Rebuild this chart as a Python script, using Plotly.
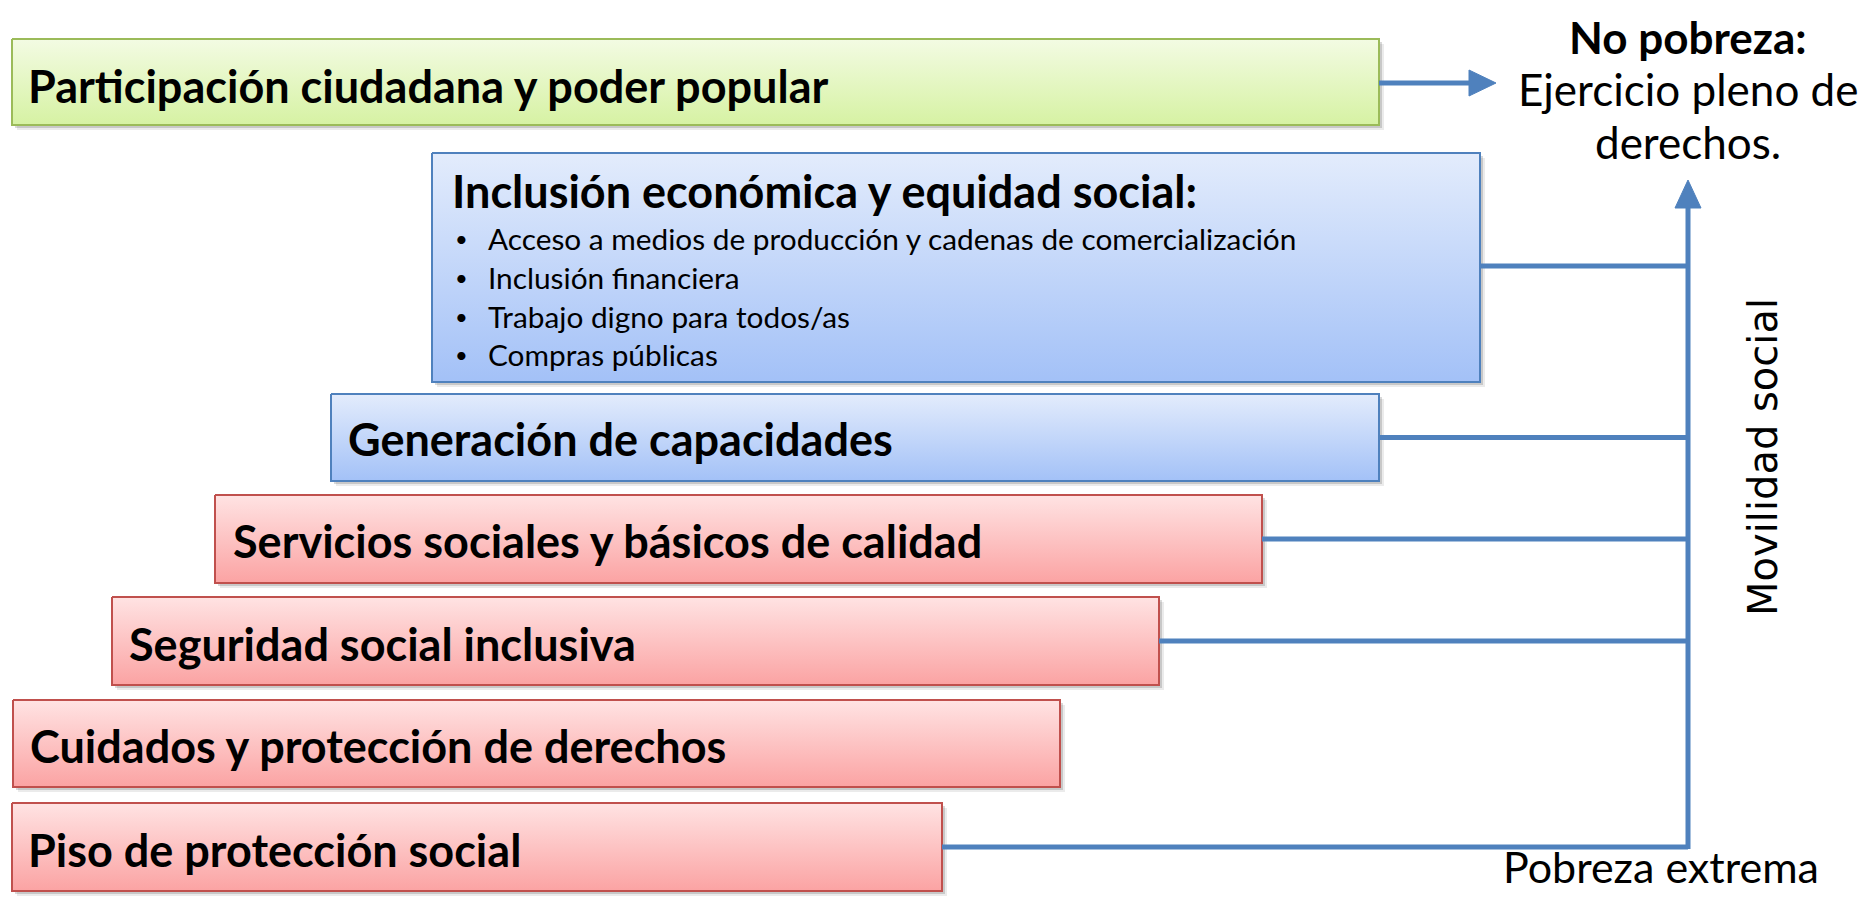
import plotly.graph_objects as go

# --- content -------------------------------------------------------------
labels = [
    "Participación ciudadana y poder popular",
    "Inclusión económica y equidad social:",
    "Generación de capacidades",
    "Servicios sociales y básicos de calidad",
    "Seguridad social inclusiva",
    "Cuidados y protección de derechos",
    "Piso de protección social",
]
bullets = [
    "Acceso a medios de producción y cadenas de comercialización",
    "Inclusión financiera",
    "Trabajo digno para todos/as",
    "Compras públicas",
]
groups = ["green", "blue", "blue", "red", "red", "red", "red"]
linked = [False, True, True, True, True, False, True]

top_title = "No pobreza:"
top_text = ["Ejercicio pleno de", "derechos."]
side_text = "Movilidad social"
bottom_text = "Pobreza extrema"

# --- layout (pixel space, y grows downwards) -----------------------------
W, H = 1872, 905
PAD = 8  # page body margin, so axis units line up with screen pixels
box_x0 = [12, 432, 331, 215, 112, 13, 12]
box_x1 = [1379, 1480, 1379, 1262, 1159, 1060, 942]
box_y0 = [39, 153, 394, 495, 597, 700, 803]
box_y1 = [125, 382, 481, 583, 685, 787, 891]

palette = {
    "green": ("#F3FBE3", "#D6F2A3", "#9BBB59"),
    "blue": ("#E3ECFC", "#A3C1F7", "#4F81BD"),
    "red": ("#FFE3E3", "#FBA3A3", "#C0504D"),
}
LINE = "#4F81BD"
SPINE_X = 1688
FONT = "Lato"

fig = go.Figure()


def rect(x0, y0, x1, y1):
    return [x0, x1, x1, x0, x0], [y0, y0, y1, y1, y0]


# boxes with soft shadow + vertical gradient
for i, lab in enumerate(labels):
    top, bottom, border = palette[groups[i]]
    for off, alpha in [(5, 0.08), (3, 0.15)]:
        xs, ys = rect(box_x0[i] + off, box_y0[i] + off, box_x1[i] + off, box_y1[i] + off)
        fig.add_trace(go.Scatter(x=xs, y=ys, mode="lines", fill="toself",
                                 fillcolor=f"rgba(0,0,0,{alpha})",
                                 line=dict(width=0), hoverinfo="skip"))
    xs, ys = rect(box_x0[i], box_y0[i], box_x1[i], box_y1[i])
    fig.add_trace(go.Scatter(
        x=xs, y=ys, mode="lines", fill="toself",
        fillgradient=dict(type="vertical", colorscale=[[0, bottom], [1, top]]),
        line=dict(color=border, width=2), hoverinfo="skip"))

# connectors into the vertical arrow
link_y = []
for i in range(len(labels)):
    if linked[i]:
        yc = (box_y0[i] + box_y1[i]) / 2 if i != 1 else 266
        link_y.append(yc)
        fig.add_trace(go.Scatter(x=[box_x1[i], SPINE_X], y=[yc, yc], mode="lines",
                                 line=dict(color=LINE, width=5), hoverinfo="skip"))

fig.add_trace(go.Scatter(x=[SPINE_X, SPINE_X], y=[max(link_y) + 2, 206], mode="lines",
                         line=dict(color=LINE, width=5), hoverinfo="skip"))
fig.add_trace(go.Scatter(x=[SPINE_X - 13, SPINE_X + 13, SPINE_X, SPINE_X - 13],
                         y=[208, 208, 180, 208], mode="lines", fill="toself",
                         fillcolor=LINE, line=dict(color=LINE, width=1), hoverinfo="skip"))

# arrow from the green box
ay = 83
fig.add_trace(go.Scatter(x=[box_x1[0], 1470], y=[ay, ay], mode="lines",
                         line=dict(color=LINE, width=5), hoverinfo="skip"))
fig.add_trace(go.Scatter(x=[1469, 1469, 1496, 1469], y=[ay - 13, ay + 13, ay, ay - 13],
                         mode="lines", fill="toself", fillcolor=LINE,
                         line=dict(color=LINE, width=1), hoverinfo="skip"))

# --- texts ---------------------------------------------------------------
ann = []
label_y = [86, 191, 439, 541, 644, 746, 850]
label_x = [26, 450, 346, 231, 127, 28, 26]
for i, lab in enumerate(labels):
    ann.append(dict(x=label_x[i], y=label_y[i], text=f"<b>{lab}</b>", xanchor="left",
                    yanchor="middle", font=dict(size=45, color="black", family=FONT)))

bullet_y = [238, 277, 316, 354]
for b, yb in zip(bullets, bullet_y):
    ann.append(dict(x=453, y=yb, text="•", xanchor="left", yanchor="middle",
                    font=dict(size=22, color="black", family=FONT)))
    ann.append(dict(x=486, y=yb, text=b, xanchor="left", yanchor="middle",
                    font=dict(size=29.8, color="black", family=FONT)))

# right-hand side captions, kept just inside the page edges
ann.append(dict(x=SPINE_X, y=37, text=f"<b>{top_title}</b>", xanchor="center",
                yanchor="middle", font=dict(size=44, color="black", family=FONT)))
ann.append(dict(x=SPINE_X, y=89, text=top_text[0], xanchor="center", yanchor="middle",
                font=dict(size=44, color="black", family=FONT)))
ann.append(dict(x=SPINE_X, y=142, text=top_text[1], xanchor="center", yanchor="middle",
                font=dict(size=44, color="black", family=FONT)))
ann.append(dict(x=1763, y=457, text=side_text, textangle=-90, xanchor="center",
                yanchor="middle", font=dict(size=40, color="black", family="DejaVu Sans")))
ann.append(dict(x=1661, y=866, text=bottom_text, xanchor="center", yanchor="middle",
                font=dict(size=43, color="black", family=FONT)))

for a in ann:
    a.update(xref="x", yref="y", showarrow=False)

fig.update_layout(
    annotations=ann,
    showlegend=False,
    plot_bgcolor="white",
    paper_bgcolor="white",
    margin=dict(l=0, r=0, t=0, b=0),
    xaxis=dict(range=[PAD, W - PAD], visible=False, fixedrange=True),
    yaxis=dict(range=[H - PAD, PAD], visible=False, fixedrange=True),
)

fig.write_html("out.html")
